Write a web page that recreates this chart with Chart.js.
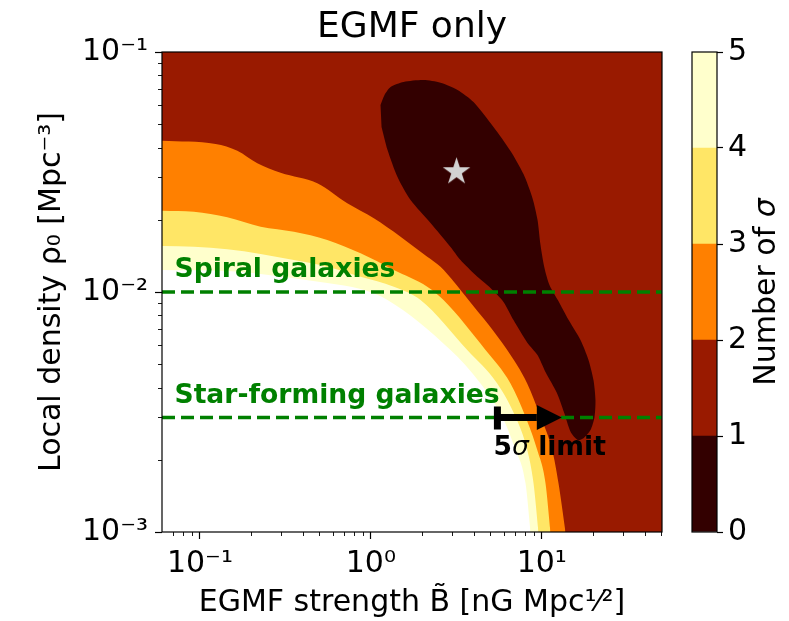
<!DOCTYPE html>
<html><head><meta charset="utf-8">
<script src="https://cdn.jsdelivr.net/npm/chart.js@4/dist/chart.umd.min.js"></script>
<style>
html,body{margin:0;padding:0;background:#fff;}
#wrap{position:relative;width:789px;height:621px;overflow:hidden;}
#main{position:absolute;left:0;top:0;}
#cbar{position:absolute;left:670px;top:0;}
</style></head><body>
<div id="wrap"><canvas id="main" width="789" height="621"></canvas><canvas id="cbar" width="119" height="621"></canvas></div>
<script>
// ---------------- data ----------------
const xRange = [0.06, 50.5];
const yRange = [0.001, 0.1];
const xTickValues = [0.1, 1, 10];
const xTickLabels = ['10\u207B\u00B9', '10\u2070', '10\u00B9'];
const yTickValues = [0.001, 0.01, 0.1];
const yTickLabels = ['10\u207B\u00B3', '10\u207B\u00B2', '10\u207B\u00B9'];
const xMinorTicks = [0.07,0.08,0.09,0.2,0.3,0.4,0.5,0.6,0.7,0.8,0.9,2,3,4,5,6,7,8,9,20,30,40,50];
const yMinorTicks = [0.002,0.003,0.004,0.005,0.006,0.007,0.008,0.009,0.02,0.03,0.04,0.05,0.06,0.07,0.08,0.09];

// contour boundaries (number of sigma)
const sigma2X = [0.06,0.1235,0.1655,0.2167,0.2965,0.486,0.728,1.041,1.492,2.137,2.556,3.727,6.278,8.216,9.83,11.50,12.52,13.76];
const sigma2Y = [0.0427,0.0414,0.0388,0.0344,0.0314,0.02838,0.02342,0.02028,0.01700,0.01403,0.01274,0.00926,0.00573,0.00416,0.00302,0.00220,0.00160,0.001];
const sigma3X = [0.06,0.0922,0.1445,0.2265,0.3547,0.556,0.871,1.363,2.137,2.661,4.687,6.561,8.030,9.40,10.51,11.24];
const sigma3Y = [0.02182,0.02161,0.02047,0.01871,0.01783,0.01647,0.01449,0.01235,0.01052,0.00926,0.00573,0.00416,0.00302,0.00220,0.00160,0.001];
const sigma4X = [0.06,0.0922,0.1445,0.2265,0.3547,0.556,0.871,1.363,1.953,3.663,5.486,7.019,8.216,8.944,9.566];
const sigma4Y = [0.01555,0.01545,0.01506,0.0144,0.01359,0.01274,0.01158,0.01052,0.00926,0.00573,0.00416,0.00302,0.00220,0.00160,0.001];
const sigma5X = [0.06,0.1445,0.2265,0.556,0.871,1.252,2.925,4.381,5.867,7.019,8.030,8.59];
const sigma5Y = [0.01235,0.01223,0.01189,0.0109,0.01029,0.00926,0.00573,0.00416,0.00302,0.00220,0.00160,0.001];
const sigma1X = [1.139,1.202,1.304,1.553,2.033,2.556,3.214,3.987,5.218,6.561,7.816,8.823,9.439,9.83,10.37,11.09,12.41,14.36,16.84,18.76,20.06,20.61,20.33,19.27,17.54,16.21,14.76,13.47,12.24,10.51,9.439,8.250,6.831,5.970,5.012,4.096,3.346,2.925,2.234,1.707,1.432,1.252,1.155];
const sigma1Y = [0.0601,0.0662,0.0715,0.0750,0.0764,0.0745,0.0695,0.0619,0.0487,0.0387,0.0310,0.0246,0.0200,0.0157,0.0126,0.0107,0.00926,0.00764,0.00631,0.00521,0.00430,0.00355,0.00301,0.00266,0.00246,0.00242,0.00261,0.00316,0.00380,0.00464,0.00546,0.00613,0.00764,0.00909,0.01039,0.01177,0.01359,0.0154,0.01939,0.02416,0.03014,0.03905,0.0487];
const bestFitB = [3.17];
const bestFitRho = [0.0317];
const spiralRho = 0.01;
const starFormingRho = 0.003;
const limitB = [5.5, 13.1];
const colorbarBounds = [0, 1, 2, 3, 4, 5];

// ---------------- styles ----------------
const levelColors = ['#330000', '#991a00', '#ff8000', '#ffe666', '#ffffcc'];
const FONT = 'DejaVu Sans';
Chart.defaults.font.family = FONT;
Chart.defaults.color = '#000';
Chart.defaults.animation = false;

const zip = (xs, ys) => xs.map((v, i) => ({x: v, y: ys[i]}));

function makeStar(R, color) {
  const c = document.createElement('canvas');
  const s = Math.ceil(2 * R + 2); c.width = s; c.height = s;
  const g = c.getContext('2d'); g.fillStyle = color; g.beginPath();
  const r = R * 0.381966;
  for (let i = 0; i < 10; i++) {
    const a = -Math.PI / 2 + i * Math.PI / 5, rr = i % 2 ? r : R;
    g.lineTo(s / 2 + rr * Math.cos(a), s / 2 + rr * Math.sin(a));
  }
  g.closePath(); g.fill();
  return c;
}

function region(data, color, fill, order, smooth) {
  const d = {data, backgroundColor: color, borderColor: 'rgba(0,0,0,0)', borderWidth: 0, fill, order, pointRadius: 0};
  if (smooth === 'monotone') d.cubicInterpolationMode = 'monotone';
  else d.tension = smooth || 0;
  return d;
}

const annotPlugin = {
  id: 'annot',
  afterDatasetsDraw(chart) {
    const {ctx, chartArea: a, scales: {x, y}} = chart;
    ctx.save();
    // green labels
    ctx.fillStyle = '#008000';
    ctx.font = 'bold 26.6px ' + FONT;
    ctx.textBaseline = 'alphabetic'; ctx.textAlign = 'left';
    ctx.fillText('Spiral galaxies', x.getPixelForValue(0.071), y.getPixelForValue(0.0116));
    ctx.fillText('Star-forming galaxies', x.getPixelForValue(0.071), y.getPixelForValue(0.00344));
    // 5 sigma arrow
    const x0 = x.getPixelForValue(limitB[0]), x1 = x.getPixelForValue(limitB[1]);
    const yy = y.getPixelForValue(starFormingRho);
    ctx.fillStyle = '#000';
    ctx.fillRect(x0 - 3.5, yy - 11, 7, 23);
    ctx.fillRect(x0, yy - 3.5, (x1 - 25) - x0, 7);
    ctx.beginPath(); ctx.moveTo(x1 - 25, yy - 12.5); ctx.lineTo(x1, yy); ctx.lineTo(x1 - 25, yy + 12.5); ctx.closePath(); ctx.fill();
    // 5σ limit text
    let tx = x.getPixelForValue(5.22);
    const ty = y.getPixelForValue(0.00209);
    ctx.font = 'bold 26.6px ' + FONT; ctx.fillText('5', tx, ty); tx += ctx.measureText('5').width;
    ctx.font = 'italic 26.6px ' + FONT; ctx.fillText('\u03C3', tx, ty); tx += ctx.measureText('\u03C3').width;
    ctx.font = 'bold 26.6px ' + FONT; ctx.fillText(' limit', tx, ty);
    // frame
    ctx.strokeStyle = '#000'; ctx.lineWidth = 1.2;
    ctx.strokeRect(a.left, a.top, a.right - a.left, a.bottom - a.top);
    // minor ticks
    ctx.lineWidth = 0.9;
    xMinorTicks.forEach(v => {
      if (v < x.min || v > x.max) return;
      const p = Math.round(x.getPixelForValue(v)) + 0.5;
      ctx.beginPath(); ctx.moveTo(p, a.bottom); ctx.lineTo(p, a.bottom + 4); ctx.stroke();
    });
    yMinorTicks.forEach(v => {
      const p = Math.round(y.getPixelForValue(v)) + 0.5;
      ctx.beginPath(); ctx.moveTo(a.left, p); ctx.lineTo(a.left - 4, p); ctx.stroke();
    });
    ctx.restore();
  }
};

new Chart(document.getElementById('main'), {
  type: 'line',
  data: {
    datasets: [
      region(zip([xRange[0], xRange[1]], [yRange[1], yRange[1]]), levelColors[1], 'start', 10),
      region(zip(sigma2X, sigma2Y), levelColors[2], 'start', 9, 'monotone'),
      region(zip(sigma3X, sigma3Y), levelColors[3], 'start', 8, 'monotone'),
      region(zip(sigma4X, sigma4Y), levelColors[4], 'start', 7, 'monotone'),
      region(zip(sigma5X, sigma5Y), '#ffffff', 'start', 6, 'monotone'),
      region(zip(sigma1X, sigma1Y), levelColors[0], 'shape', 5, 0.25),
      {data: zip(xRange, [spiralRho, spiralRho]), borderColor: '#008000', borderWidth: 3.5, borderDash: [13, 6], pointRadius: 0, fill: false, order: 3},
      {data: zip(xRange, [starFormingRho, starFormingRho]), borderColor: '#008000', borderWidth: 3.5, borderDash: [13, 6], pointRadius: 0, fill: false, order: 3},
      {data: zip(bestFitB, bestFitRho), showLine: false, pointStyle: makeStar(14.5, '#d3d3d3'), pointRadius: 10, order: 1}
    ]
  },
  options: {
    responsive: false,
    animation: false,
    events: [],
    layout: {padding: {left: 0, right: 127, top: 0, bottom: 0}},
    plugins: {
      legend: {display: false},
      tooltip: {enabled: false},
      title: {display: true, fullSize: false, text: 'EGMF only', font: {size: 36, weight: 'normal'}, color: '#000', padding: {top: 6, bottom: 2.8}}
    },
    scales: {
      x: {
        type: 'logarithmic', min: xRange[0], max: xRange[1],
        afterBuildTicks: s => { s.ticks = xTickValues.map(v => ({value: v})); },
        afterFit: s => { s.height = 89; },
        ticks: {autoSkip: false, maxRotation: 0, font: {size: 30}, padding: 7, callback: (v, i) => xTickLabels[i]},
        grid: {drawOnChartArea: false, drawTicks: true, tickLength: 7, tickWidth: 1.2, tickColor: '#000'},
        border: {display: false},
        title: {display: true, text: 'EGMF strength B\u0303 [nG Mpc\u00B9\u2044\u00B2]', font: {size: 30}, padding: {top: 0, bottom: 0}}
      },
      y: {
        type: 'logarithmic', min: yRange[0], max: yRange[1],
        afterBuildTicks: s => { s.ticks = yTickValues.map(v => ({value: v})); },
        afterFit: s => { s.width = 162; },
        ticks: {autoSkip: false, font: {size: 30}, padding: 7, callback: (v, i) => yTickLabels[i]},
        grid: {drawOnChartArea: false, drawTicks: true, tickLength: 7, tickWidth: 1.2, tickColor: '#000'},
        border: {display: false},
        title: {display: true, text: 'Local density \u03C1\u2080 [Mpc\u207B\u00B3]', font: {size: 30}, padding: {top: 34, bottom: 0}}
      }
    }
  },
  plugins: [annotPlugin]
});

// ---------------- colorbar ----------------
const cbarPlugin = {
  id: 'cbarFrame',
  afterDraw(chart) {
    const {ctx, chartArea: a} = chart;
    ctx.save();
    ctx.strokeStyle = '#000'; ctx.lineWidth = 1.2;
    ctx.strokeRect(a.left, a.top, a.right - a.left, a.bottom - a.top);
    ctx.translate(97, (a.top + a.bottom) / 2);
    ctx.rotate(-Math.PI / 2);
    ctx.fillStyle = '#000';
    ctx.textBaseline = 'middle'; ctx.textAlign = 'left';
    ctx.font = '30px ' + FONT;
    const t1 = 'Number of ';
    ctx.font = '30px ' + FONT; const w1 = ctx.measureText(t1).width;
    ctx.font = 'italic 30px ' + FONT; const w2 = ctx.measureText('\u03C3').width;
    let sx = -(w1 + w2) / 2;
    ctx.font = '30px ' + FONT; ctx.fillText(t1, sx, 0);
    ctx.font = 'italic 30px ' + FONT; ctx.fillText('\u03C3', sx + w1, 0);
    ctx.restore();
  }
};

new Chart(document.getElementById('cbar'), {
  type: 'bar',
  data: {
    labels: [''],
    datasets: colorbarBounds.slice(1).map((b, i) => ({
      data: [b - colorbarBounds[i]], backgroundColor: levelColors[i], borderWidth: 0,
      barPercentage: 1, categoryPercentage: 1
    }))
  },
  options: {
    responsive: false,
    animation: false,
    events: [],
    layout: {padding: {left: 22, right: 0, top: 52, bottom: 89}},
    plugins: {legend: {display: false}, tooltip: {enabled: false}, title: {display: false}},
    scales: {
      x: {stacked: true, display: false},
      y: {
        stacked: true, position: 'right', min: colorbarBounds[0], max: colorbarBounds[colorbarBounds.length - 1],
        afterBuildTicks: s => { s.ticks = colorbarBounds.map(v => ({value: v})); },
        afterFit: s => { s.width = 72; },
        ticks: {font: {size: 30}, padding: 5, color: '#000'},
        grid: {drawOnChartArea: false, drawTicks: true, tickLength: 6, tickWidth: 1.2, tickColor: '#000'},
        border: {display: false}
      }
    }
  },
  plugins: [cbarPlugin]
});
</script>
</body></html>
